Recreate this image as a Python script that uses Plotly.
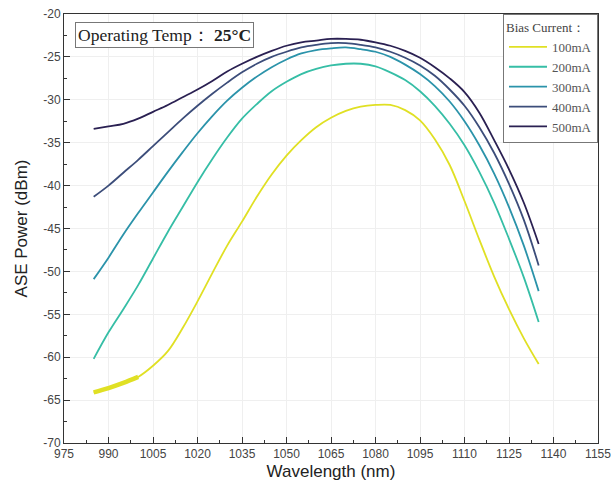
import plotly.graph_objects as go

wavelength = [985, 990, 995, 1000, 1005, 1010, 1015, 1020, 1025, 1030, 1035, 1040, 1045,
              1050, 1055, 1060, 1065, 1070, 1075, 1080, 1085, 1090, 1095, 1100, 1105,
              1110, 1115, 1120, 1125, 1130, 1135]

p100 = [-64.1, -63.6, -63.0, -62.3, -61.0, -59.3, -56.6, -53.5, -50.2, -47.0, -44.2, -41.3, -38.7,
        -36.5, -34.7, -33.2, -32.1, -31.3, -30.8, -30.6, -30.6, -31.2, -32.4, -34.6, -37.6,
        -41.8, -46.3, -50.6, -54.4, -57.8, -60.8]
p200 = [-60.2, -57.1, -54.4, -51.6, -48.5, -45.4, -42.5, -39.6, -36.9, -34.4, -32.2, -30.5, -29.0,
        -27.9, -27.0, -26.4, -26.0, -25.8, -25.8, -26.1, -26.8, -27.7, -29.0, -30.7, -32.8,
        -35.3, -38.4, -42.0, -46.2, -50.7, -55.9]
p300 = [-50.9, -48.4, -45.7, -43.2, -40.8, -38.4, -36.1, -33.9, -31.9, -30.1, -28.6, -27.3, -26.2,
        -25.3, -24.6, -24.2, -24.0, -23.9, -24.1, -24.4, -25.0, -25.9, -27.0, -28.4, -30.2,
        -32.5, -35.3, -38.6, -42.5, -47.0, -52.3]
p400 = [-41.3, -40.0, -38.5, -37.0, -35.4, -33.8, -32.2, -30.7, -29.3, -28.0, -26.8, -25.8, -25.0,
        -24.4, -23.9, -23.6, -23.4, -23.4, -23.6, -23.9, -24.4, -25.1, -26.0, -27.2, -28.8,
        -30.7, -33.2, -36.2, -39.8, -44.0, -49.3]
p500 = [-33.4, -33.1, -32.8, -32.2, -31.4, -30.6, -29.7, -28.8, -27.8, -26.7, -25.8, -25.0, -24.3,
        -23.7, -23.3, -23.1, -22.9, -22.9, -23.0, -23.3, -23.7, -24.3, -25.1, -26.2, -27.5,
        -29.1, -31.5, -34.7, -38.1, -42.0, -46.8]

series_names = ["100mA", "200mA", "300mA", "400mA", "500mA"]
series_values = [p100, p200, p300, p400, p500]
colors = ["#e0e024", "#36bea6", "#2b93aa", "#3c4d7a", "#2a2052"]

x_ticks = list(range(975, 1156, 15))
y_ticks = list(range(-70, -19, 5))

fig = go.Figure()
for name, vals, col in zip(series_names, series_values, colors):
    fig.add_trace(go.Scatter(x=wavelength, y=vals, mode="lines", name=name,
                             line=dict(color=col, width=1.8, shape="spline", smoothing=1.0)))
# thicker noisy start of the 100mA trace
fig.add_trace(go.Scatter(x=wavelength[:4], y=p100[:4], mode="lines", showlegend=False,
                         line=dict(color=colors[0], width=4.5, shape="spline"), hoverinfo="skip"))

serif = "Liberation Serif, Times New Roman, serif"
fig.update_layout(
    width=613, height=495,
    margin=dict(l=64, r=15, t=14, b=52),
    paper_bgcolor="white", plot_bgcolor="white",
    font=dict(family="Liberation Sans, Arial, sans-serif", color="#333"),
    legend=dict(
        x=1, xanchor="right", y=1, yanchor="top",
        bgcolor="white", bordercolor="#777", borderwidth=1,
        title=dict(text="Bias Current：", font=dict(family=serif, size=13, color="#444")),
        font=dict(family=serif, size=13, color="#555"),
        tracegroupgap=0, itemwidth=38,
    ),
    annotations=[dict(
        xref="paper", yref="paper", x=0.02, y=0.981, xanchor="left", yanchor="top",
        text="Operating Temp：\u00a0<b>25°C</b>", showarrow=False,
        font=dict(family=serif, size=17.5, color="#222"),
        bordercolor="#777", borderwidth=1, borderpad=2, bgcolor="white",
    )],
)

fig.update_xaxes(
    range=[975, 1155], tickvals=x_ticks, ticktext=[str(v) for v in x_ticks],
    ticks="inside", ticklen=6, tickcolor="#333", showline=True, linecolor="#333", linewidth=1,
    mirror=True, showgrid=True, gridcolor="#efefef", zeroline=False, automargin=False,
    ticklabeloverflow="allow",
    minor=dict(ticks="inside", ticklen=3, dtick=7.5, tick0=975, tickcolor="#333"),
    tickfont=dict(size=12, color="#444"),
    title=dict(text="Wavelength (nm)", font=dict(size=17, color="#222"), standoff=4),
)
fig.update_yaxes(
    range=[-70, -20], tickvals=y_ticks, ticktext=[str(v) for v in y_ticks],
    ticks="inside", ticklen=6, tickcolor="#333", showline=True, linecolor="#333", linewidth=1,
    mirror=True, showgrid=True, gridcolor="#efefef", zeroline=False, automargin=False,
    ticklabeloverflow="allow",
    minor=dict(ticks="inside", ticklen=3, dtick=2.5, tick0=-70, tickcolor="#333"),
    tickfont=dict(size=12, color="#444"),
    title=dict(text="ASE Power (dBm)", font=dict(size=17, color="#222"), standoff=11),
)

fig.write_html("out.html", config={"displayModeBar": False},
               post_script="document.body.style.margin='0';document.body.style.overflow='hidden';")
